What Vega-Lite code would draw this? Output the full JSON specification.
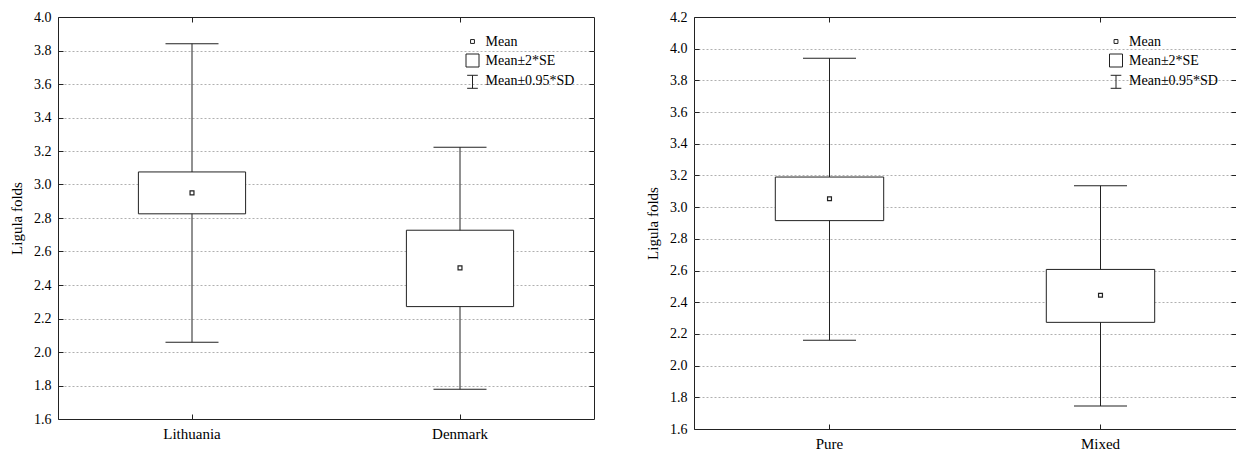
{
  "$schema": "https://vega.github.io/schema/vega-lite/v6.json",
  "padding": {"left": 9, "top": 9, "right": 0, "bottom": 0},
  "spacing": 50,
  "config": {
    "view": {"stroke": "#222", "strokeWidth": 1},
    "axis": {
      "labelFont": "Liberation Serif",
      "labelFontSize": 14,
      "labelColor": "#000",
      "titleFont": "Liberation Serif",
      "titleFontSize": 15,
      "titleFontWeight": "normal",
      "titleColor": "#000",
      "domain": false,
      "tickColor": "#222",
      "tickSize": -5,
      "labelPadding": 12,
      "grid": false
    },
    "legend": {"labelFont": "Liberation Serif"}
  },
  "resolve": {"scale": {"shape": "independent"}, "legend": {"shape": "independent"}},
  "hconcat": [
    {
      "width": 536,
      "height": 402,
      "data": {"values": [
        {"group": "Lithuania", "mean": 2.95, "se_lo": 2.825, "se_hi": 3.075, "sd_lo": 2.058, "sd_hi": 3.841},
        {"group": "Denmark", "mean": 2.502, "se_lo": 2.271, "se_hi": 2.727, "sd_lo": 1.777, "sd_hi": 3.223}
      ]},
      "layer": [
        {
          "mark": {"type": "rule", "color": "#222", "strokeWidth": 1},
          "encoding": {
            "x": {"field": "group", "type": "nominal", "sort": null, "scale": {"paddingInner": 0, "paddingOuter": 0},
                  "axis": {"orient": "bottom", "title": null, "labelAngle": 0, "labelFontSize": 15}},
            "y": {"field": "sd_lo", "type": "quantitative", "scale": {"domain": [1.6, 4.0], "nice": false, "zero": false},
                  "axis": {"orient": "left", "values": [1.6, 1.8, 2.0, 2.2, 2.4, 2.6, 2.8, 3.0, 3.2, 3.4, 3.6, 3.8, 4.0], "format": ".1f", "title": "Ligula folds", "titlePadding": 9}},
            "y2": {"field": "sd_hi"}
          }
        },
        {
          "mark": {"type": "tick", "size": 53, "thickness": 1, "color": "#222", "opacity": 1},
          "encoding": {
            "x": {"field": "group", "type": "nominal", "sort": null, "axis": {"orient": "top", "labels": false, "title": null}},
            "y": {"field": "sd_hi", "type": "quantitative",
                  "axis": {"orient": "right", "values": [1.8, 2.0, 2.2, 2.4, 2.6, 2.8, 3.0, 3.2, 3.4, 3.6, 3.8], "labels": false, "title": null, "grid": true, "gridColor": "#b0b0b0", "gridDash": [2, 2], "gridWidth": 1}}
          }
        },
        {
          "mark": {"type": "tick", "size": 53, "thickness": 1, "color": "#222", "opacity": 1},
          "encoding": {
            "x": {"field": "group", "type": "nominal", "sort": null, "axis": null},
            "y": {"field": "sd_lo", "type": "quantitative", "axis": null}
          }
        },
        {
          "mark": {"type": "bar", "fill": "white", "stroke": "#222", "strokeWidth": 1, "width": {"band": 0.4}},
          "encoding": {
            "x": {"field": "group", "type": "nominal", "sort": null, "axis": null},
            "y": {"field": "se_lo", "type": "quantitative", "axis": null},
            "y2": {"field": "se_hi"}
          }
        },
        {
          "mark": {"type": "point", "filled": false, "color": "#222", "strokeWidth": 1.2, "size": 169, "opacity": 1},
          "encoding": {
            "x": {"field": "group", "type": "nominal", "sort": null, "axis": null},
            "y": {"field": "mean", "type": "quantitative", "axis": null},
            "shape": {
              "datum": "Mean",
              "scale": {"domain": ["Mean", "Mean±2*SE", "Mean±0.95*SD"],
                        "range": ["M-0.3,-0.3H0.3V0.3H-0.3Z", "M-1,-1H1V1H-1Z", "M-0.82,-0.8H0.82M0,-0.8V1.2M-0.82,1.2H0.82"]},
              "legend": {"orient": "none", "legendX": 407.5, "legendY": 17.5, "title": null, "symbolSize": 169,
                         "symbolStrokeWidth": 1, "symbolOpacity": 1,
                         "labelFont": "Liberation Serif", "labelFontSize": 14, "labelColor": "#000", "labelOffset": 6, "rowPadding": 3}
            }
          }
        }
      ],
      "resolve": {"axis": {"x": "independent", "y": "independent"}}
    },
    {
      "width": 542,
      "height": 412,
      "data": {"values": [
        {"group": "Pure", "mean": 3.053, "se_lo": 2.915, "se_hi": 3.19, "sd_lo": 2.16, "sd_hi": 3.94},
        {"group": "Mixed", "mean": 2.444, "se_lo": 2.273, "se_hi": 2.607, "sd_lo": 1.745, "sd_hi": 3.135}
      ]},
      "layer": [
        {
          "mark": {"type": "rule", "color": "#222", "strokeWidth": 1},
          "encoding": {
            "x": {"field": "group", "type": "nominal", "sort": null, "scale": {"paddingInner": 0, "paddingOuter": 0},
                  "axis": {"orient": "bottom", "title": null, "labelAngle": 0, "labelFontSize": 15}},
            "y": {"field": "sd_lo", "type": "quantitative", "scale": {"domain": [1.6, 4.2], "nice": false, "zero": false},
                  "axis": {"orient": "left", "values": [1.6, 1.8, 2.0, 2.2, 2.4, 2.6, 2.8, 3.0, 3.2, 3.4, 3.6, 3.8, 4.0, 4.2], "format": ".1f", "title": "Ligula folds", "titlePadding": 9}},
            "y2": {"field": "sd_hi"}
          }
        },
        {
          "mark": {"type": "tick", "size": 53, "thickness": 1, "color": "#222", "opacity": 1},
          "encoding": {
            "x": {"field": "group", "type": "nominal", "sort": null, "axis": {"orient": "top", "labels": false, "title": null}},
            "y": {"field": "sd_hi", "type": "quantitative",
                  "axis": {"orient": "right", "values": [1.8, 2.0, 2.2, 2.4, 2.6, 2.8, 3.0, 3.2, 3.4, 3.6, 3.8, 4.0], "labels": false, "title": null, "grid": true, "gridColor": "#b0b0b0", "gridDash": [2, 2], "gridWidth": 1}}
          }
        },
        {
          "mark": {"type": "tick", "size": 53, "thickness": 1, "color": "#222", "opacity": 1},
          "encoding": {
            "x": {"field": "group", "type": "nominal", "sort": null, "axis": null},
            "y": {"field": "sd_lo", "type": "quantitative", "axis": null}
          }
        },
        {
          "mark": {"type": "bar", "fill": "white", "stroke": "#222", "strokeWidth": 1, "width": {"band": 0.4}},
          "encoding": {
            "x": {"field": "group", "type": "nominal", "sort": null, "axis": null},
            "y": {"field": "se_lo", "type": "quantitative", "axis": null},
            "y2": {"field": "se_hi"}
          }
        },
        {
          "mark": {"type": "point", "filled": false, "color": "#222", "strokeWidth": 1.2, "size": 169, "opacity": 1},
          "encoding": {
            "x": {"field": "group", "type": "nominal", "sort": null, "axis": null},
            "y": {"field": "mean", "type": "quantitative", "axis": null},
            "shape": {
              "datum": "Mean",
              "scale": {"domain": ["Mean", "Mean±2*SE", "Mean±0.95*SD"],
                        "range": ["M-0.3,-0.3H0.3V0.3H-0.3Z", "M-1,-1H1V1H-1Z", "M-0.82,-0.8H0.82M0,-0.8V1.2M-0.82,1.2H0.82"]},
              "legend": {"orient": "none", "legendX": 415, "legendY": 17.5, "title": null, "symbolSize": 169,
                         "symbolStrokeWidth": 1, "symbolOpacity": 1,
                         "labelFont": "Liberation Serif", "labelFontSize": 14, "labelColor": "#000", "labelOffset": 6, "rowPadding": 3}
            }
          }
        }
      ],
      "resolve": {"axis": {"x": "independent", "y": "independent"}}
    }
  ]
}
